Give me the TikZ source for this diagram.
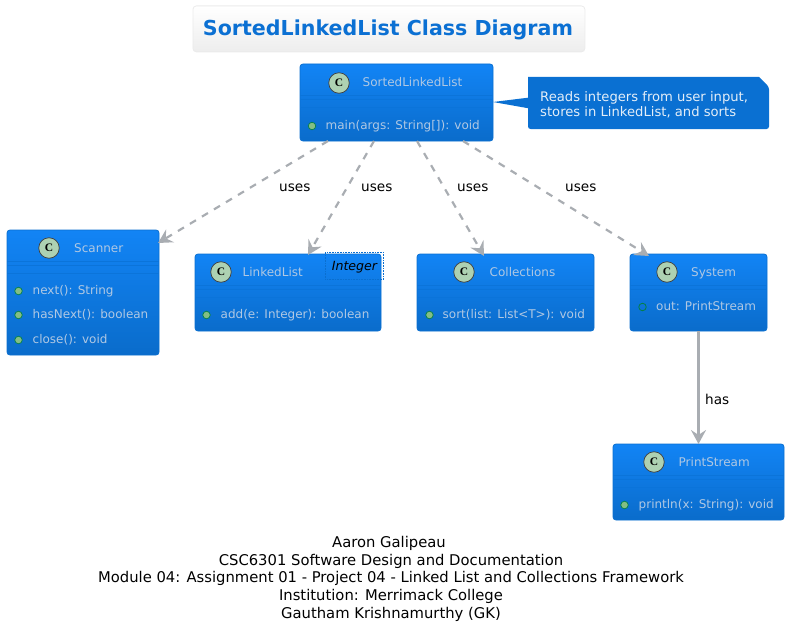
\documentclass[tikz,border=0pt]{standalone}
\usepackage{fontspec}
\setmainfont{DejaVu Sans}
\newfontfamily\glyphfont{Liberation Serif}
\usetikzlibrary{arrows.meta,calc,shapes.misc}
\definecolor{classtop}{HTML}{1284F5}
\definecolor{classbot}{HTML}{0A6CCB}
\definecolor{classline}{HTML}{0A6FD0}
\definecolor{classtext}{HTML}{B0C8E3}
\definecolor{sepline}{HTML}{0B74DA}
\definecolor{notefill}{HTML}{0A70D2}
\definecolor{notetext}{HTML}{E4EEF8}
\definecolor{titleblue}{HTML}{0B70D3}
\definecolor{linkgray}{HTML}{A9ADB2}
\definecolor{spotfill}{HTML}{ADD1B2}
\definecolor{pubfill}{HTML}{84BE84}
\definecolor{publine}{HTML}{038048}
\tikzset{
  classbox/.style={draw=classline,line width=.8pt,rounded corners=3pt,top color=classtop,bottom color=classbot,inner sep=0pt,outer sep=0pt,anchor=north west},
  classname/.style={text=classtext,font=\fontsize{12}{14}\selectfont,inner sep=0pt,anchor=base west},
  member/.style={text=classtext,font=\fontsize{12}{14}\selectfont,inner sep=0pt,anchor=base west},
  spot/.style={circle,draw=black!75,line width=.7pt,fill=spotfill,minimum size=20.5pt,inner sep=0pt,font=\glyphfont\bfseries\fontsize{11.5}{12}\selectfont},
  pub/.style={circle,draw=publine,line width=.7pt,fill=pubfill,minimum size=7.5pt,inner sep=0pt},
  field/.style={circle,draw=publine,line width=.8pt,minimum size=7.5pt,inner sep=0pt},
  usesline/.style={draw=linkgray,line width=2.2pt,dash pattern=on 7pt off 7pt,-{Stealth[length=14pt,width=15pt,inset=5pt]}},
  hasline/.style={draw=linkgray,line width=2.6pt,-{Stealth[length=14pt,width=15pt,inset=5pt]}},
  linklabel/.style={text=black,font=\fontsize{13.6}{15}\selectfont,inner sep=0pt,anchor=base west},
  sep/.style={draw=sepline,line width=.8pt},
  captionline/.style={text=black,font=\fontsize{14.78}{17}\selectfont,inner sep=0pt,anchor=base}
}
\newcommand{\classframe}[7]{% name, x, y, w, h, sep1, sep2
  \node[classbox,minimum width=#4pt,minimum height=#5pt] (#1) at (#2,#3) {};
  \draw[sep] ($(#1.north west)+(0,#6)$) -- ($(#1.north east)+(0,#6)$);
  \draw[sep] ($(#1.north west)+(0,#6+4)$) -- ($(#1.north east)+(0,#6+4)$);
  \ifnum#7>0 \draw[sep] ($(#1.north west)+(0,#7)$) -- ($(#1.north east)+(0,#7)$);\fi
}
\begin{document}
\begin{tikzpicture}[x=1pt,y=-1pt]
\useasboundingbox (0,0) rectangle (790,634);
% title
\node[draw=black!8,line width=.8pt,rounded corners=3.5pt,top color=white,bottom color=black!7,minimum width=392pt,minimum height=46pt,inner sep=0pt,anchor=north west] (titlebox) at (192.5,5.5) {};
\node[text=titleblue,font=\bfseries\fontsize{20.6}{24}\selectfont,inner sep=0pt,anchor=base] (titletext) at (388,36) {SortedLinkedList Class Diagram};
% SortedLinkedList
\classframe{sll}{300}{64}{193}{77}{31}{43}
\node[spot] (sllc) at (339,83) {C};
\node[classname] (slln) at (362.5,87) {SortedLinkedList};
\node[pub] (sllp) at (312,126) {};
\node[member] (sllm) at (325.5,129) {main(args: String[]): void};
% note
\path[fill=notefill,rounded corners=2.5pt] (528,77) -- (528,129) -- (769,129) -- (769,87) [sharp corners] -- (759,77) -- cycle;
\node[inner sep=0pt,minimum width=241pt,minimum height=52pt,anchor=north west] (note) at (528,77) {};
\path[fill=notefill] (sll.east |- 0,102) -- ($(note.west)+(0,-5.5)$) -- ($(note.west)+(0,5)$) -- cycle;
\node[text=notetext,font=\fontsize{13.15}{15}\selectfont,inner sep=0pt,anchor=base west] (notea) at (540,101) {Reads integers from user input,};
\node[text=notetext,font=\fontsize{13.15}{15}\selectfont,inner sep=0pt,anchor=base west] (noteb) at (540,116) {stores in LinkedList, and sorts};
% Scanner
\classframe{scanner}{7}{230}{152}{125}{31}{43}
\node[spot] (scc) at (49,248) {C};
\node[classname] (scn) at (74,252) {Scanner};
\node[pub] (scp1) at (18.5,291) {};
\node[member] (scm1) at (32.5,294) {next(): String};
\node[pub] (scp2) at (18.5,315) {};
\node[member] (scm2) at (32.5,318.5) {hasNext(): boolean};
\node[pub] (scp3) at (18.5,340) {};
\node[member] (scm3) at (32.5,343) {close(): void};
% LinkedList
\classframe{ll}{195}{254}{186}{77}{31}{43}
\node[spot] (llc) at (221,272) {C};
\node[classname] (lln) at (242.5,276) {LinkedList};
\node[pub] (llp) at (206.5,315) {};
\node[member] (llm) at (220.5,318.5) {add(e: Integer): boolean};
\node[draw=classline,line width=.6pt,densely dotted,inner sep=0pt,minimum width=58pt,minimum height=27pt,anchor=north west] (lltpl) at (325,252) {};
\node[text=black,font=\itshape\fontsize{12.6}{14}\selectfont,inner sep=0pt,anchor=base] (lltt) at (354.5,270) {Integer};
% Collections
\classframe{coll}{417}{254}{177}{77}{31}{43}
\node[spot] (colc) at (464,272) {C};
\node[classname] (coln) at (489.5,276) {Collections};
\node[pub] (colp) at (429.5,315) {};
\node[member] (colm) at (442.5,318.5) {sort(list: List<T>): void};
% System
\classframe{sys}{630}{254}{137}{77}{31}{0}
\node[spot] (sysc) at (667,272) {C};
\node[classname] (sysn) at (691,276) {System};
\node[field] (sysf) at (642.5,307) {};
\node[member] (sysm) at (656,310) {out: PrintStream};
% PrintStream
\classframe{ps}{613}{444}{171}{76}{31}{43}
\node[spot] (psc) at (654,462) {C};
\node[classname] (psn) at (678.5,466) {PrintStream};
\node[pub] (psp) at (624.5,505) {};
\node[member] (psm) at (638.5,508) {println(x: String): void};
% connectors
\draw[usesline] ($(sll.south west)+(28,0)$) -- ($(scanner.north east)+(-1,13)$);
\draw[usesline] ($(sll.south west)+(74,0)$) -- ($(ll.north west)+(113,1)$);
\draw[usesline] ($(sll.south west)+(117,0)$) -- ($(coll.north west)+(67,2)$);
\draw[usesline] ($(sll.south west)+(163,0)$) -- ($(sys.north west)+(19,2)$);
\draw[hasline] (sys.south) -- (ps.north);
% link labels
\node[linklabel] (u1) at (279,191.5) {uses};
\node[linklabel] (u2) at (361,191.5) {uses};
\node[linklabel] (u3) at (457,191.5) {uses};
\node[linklabel] (u4) at (565,191.5) {uses};
\node[linklabel] (h1) at (705,404.5) {has};
% caption
\node[captionline] (c1) at (389,547) {Aaron Galipeau};
\node[captionline] (c2) at (391,565) {CSC6301 Software Design and Documentation};
\node[captionline] (c3) at (391,582.5) {Module 04: Assignment 01 - Project 04 - Linked List and Collections Framework};
\node[captionline] (c4) at (391,600) {Institution: Merrimack College};
\node[captionline] (c5) at (391,618) {Gautham Krishnamurthy (GK)};
\end{tikzpicture}
\end{document}
